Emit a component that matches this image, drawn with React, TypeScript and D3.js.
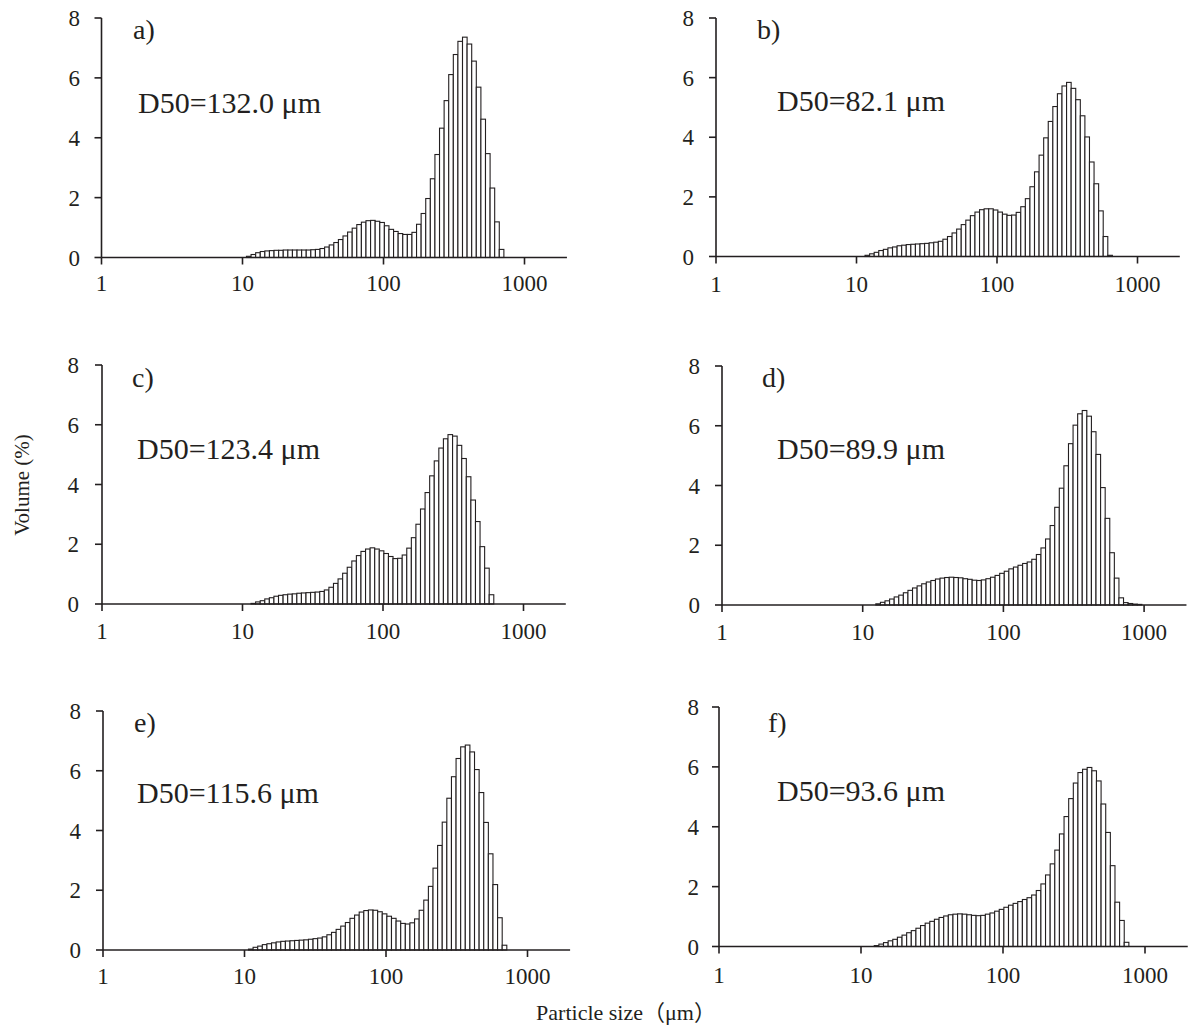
import React, { useEffect, useRef } from 'react';
import * as d3 from 'd3';

// channel grid of the particle sizer (lower edge of first channel, log10 width of a channel)
const CHANNEL_START = 10.67;
const CHANNEL_LOG_STEP = 0.0326;

const PANEL_IDS = ['a)', 'b)', 'c)', 'd)', 'e)', 'f)'];
const D50_LABELS = ['D50=132.0 μm', 'D50=82.1 μm', 'D50=123.4 μm', 'D50=89.9 μm', 'D50=115.6 μm', 'D50=93.6 μm'];
const Y_TICKS = [0, 2, 4, 6, 8];
const X_TICKS = [1, 10, 100, 1000];
const X_MAX = 2000;

// volume (%) per channel, channel 0 first
const VOL_A = [0.04, 0.1, 0.16, 0.2, 0.22, 0.23, 0.24, 0.24, 0.25, 0.25, 0.25, 0.25, 0.25, 0.25, 0.26, 0.27,
  0.3, 0.35, 0.42, 0.5, 0.6, 0.72, 0.85, 0.98, 1.1, 1.18, 1.23, 1.24, 1.21, 1.17, 1.06, 0.94, 0.87, 0.8,
  0.77, 0.77, 0.84, 1.11, 1.47, 1.97, 2.63, 3.44, 4.32, 5.24, 6.11, 6.78, 7.22, 7.36, 7.13, 6.56, 5.69,
  4.62, 3.47, 2.32, 1.19, 0.27];
const VOL_B = [0, 0.04, 0.09, 0.14, 0.2, 0.24, 0.29, 0.32, 0.36, 0.38, 0.4, 0.41, 0.42, 0.43, 0.44, 0.46,
  0.48, 0.51, 0.58, 0.67, 0.79, 0.92, 1.07, 1.22, 1.37, 1.49, 1.57, 1.6, 1.6, 1.56, 1.49, 1.42, 1.38, 1.39,
  1.48, 1.67, 1.94, 2.34, 2.84, 3.4, 3.98, 4.53, 5.03, 5.46, 5.72, 5.84, 5.64, 5.26, 4.72, 4.01, 3.17,
  2.44, 1.53, 0.67, 0.04];
const VOL_C = [0, 0.02, 0.07, 0.11, 0.17, 0.21, 0.26, 0.29, 0.31, 0.33, 0.34, 0.36, 0.37, 0.38, 0.39, 0.4,
  0.42, 0.47, 0.56, 0.69, 0.84, 1.03, 1.23, 1.44, 1.62, 1.76, 1.84, 1.88, 1.84, 1.78, 1.69, 1.59, 1.52,
  1.53, 1.64, 1.87, 2.22, 2.67, 3.18, 3.73, 4.29, 4.79, 5.22, 5.53, 5.67, 5.62, 5.31, 4.87, 4.26, 3.48,
  2.76, 1.92, 1.2, 0.31];
const VOL_D = [0, 0, 0.04, 0.09, 0.14, 0.2, 0.27, 0.33, 0.41, 0.49, 0.57, 0.64, 0.71, 0.77, 0.82, 0.87, 0.9,
  0.92, 0.93, 0.92, 0.91, 0.88, 0.86, 0.83, 0.82, 0.84, 0.88, 0.93, 0.99, 1.06, 1.13, 1.21, 1.27, 1.33,
  1.39, 1.44, 1.53, 1.69, 1.91, 2.21, 2.66, 3.27, 3.91, 4.66, 5.4, 6.02, 6.4, 6.51, 6.32, 5.8, 5.04, 3.93,
  2.9, 1.75, 0.9, 0.24, 0.08, 0.05, 0.03, 0.02];
const VOL_E = [0.03, 0.09, 0.13, 0.18, 0.21, 0.24, 0.27, 0.29, 0.3, 0.31, 0.32, 0.33, 0.34, 0.36, 0.38, 0.4,
  0.44, 0.51, 0.59, 0.69, 0.8, 0.92, 1.06, 1.17, 1.27, 1.32, 1.34, 1.33, 1.28, 1.21, 1.13, 1.06, 0.97,
  0.89, 0.87, 0.91, 1.04, 1.33, 1.67, 2.13, 2.74, 3.5, 4.28, 5.08, 5.8, 6.41, 6.8, 6.86, 6.63, 6.04, 5.27,
  4.27, 3.22, 2.19, 1.08, 0.16];
const VOL_F = [0, 0, 0.03, 0.08, 0.13, 0.19, 0.24, 0.31, 0.38, 0.46, 0.53, 0.61, 0.7, 0.78, 0.84, 0.91,
  0.97, 1.02, 1.06, 1.08, 1.09, 1.08, 1.06, 1.04, 1.03, 1.04, 1.08, 1.12, 1.18, 1.24, 1.31, 1.38, 1.44,
  1.5, 1.57, 1.63, 1.72, 1.87, 2.09, 2.39, 2.76, 3.22, 3.76, 4.34, 4.94, 5.46, 5.81, 5.92, 5.98, 5.87,
  5.53, 4.76, 3.81, 2.7, 1.48, 0.87, 0.14];
const VOLUMES = [VOL_A, VOL_B, VOL_C, VOL_D, VOL_E, VOL_F];

// where each small chart sits on the page (x of 1 µm, px per decade, y of 0 and 8, label spots)
const FRAMES = [
  { x1: 101.5, dec: 141, y0: 257.5, y8: 18, yLab: 80, xLab: 291, idX: 133, idY: 39, dX: 138, dY: 113 },
  { x1: 716, dec: 140.5, y0: 256.5, y8: 18, yLab: 694, xLab: 292, idX: 757, idY: 39, dX: 777, dY: 111 },
  { x1: 102, dec: 140.5, y0: 604, y8: 365, yLab: 79, xLab: 639, idX: 132, idY: 387, dX: 137, dY: 459 },
  { x1: 722, dec: 140.7, y0: 605, y8: 366, yLab: 700, xLab: 640, idX: 762, idY: 387, dX: 777, dY: 459 },
  { x1: 103, dec: 141.5, y0: 950, y8: 711, yLab: 81, xLab: 984, idX: 134, idY: 732, dX: 137, dY: 803 },
  { x1: 719, dec: 142, y0: 946.5, y8: 707, yLab: 699, xLab: 983, idX: 768, idY: 732, dX: 777, dY: 801 },
];

const INK = '#231f20';
const SERIF = '"Liberation Serif", "Times New Roman", "Noto Sans CJK JP", serif';

const channelEdge = (i: number) => CHANNEL_START * Math.pow(10, i * CHANNEL_LOG_STEP);

const App = () => {
  const node = useRef<SVGSVGElement>(null);

  useEffect(() => {
    const svg = d3.select(node.current);
    svg.selectAll('*').remove();

    FRAMES.forEach((f, p) => {
      const g = svg.append('g');
      const x = d3.scaleLog().domain([1, 1000]).range([f.x1, f.x1 + 3 * f.dec]);
      const y = d3.scaleLinear().domain([0, 8]).range([f.y0, f.y8]);

      const bars = VOLUMES[p].map((v, i) => ({ v, i })).filter(d => d.v > 0);

      // histogram bars
      g.selectAll('rect.bar')
        .data(bars)
        .enter()
        .append('rect')
        .attr('x', d => x(channelEdge(d.i)))
        .attr('width', d => x(channelEdge(d.i + 1)) - x(channelEdge(d.i)))
        .attr('y', d => y(d.v))
        .attr('height', d => y(0) - y(d.v))
        .attr('fill', '#fff')
        .attr('stroke', INK)
        .attr('stroke-width', 1.1);

      // x axis
      g.append('line')
        .attr('x1', x(1)).attr('x2', x(X_MAX))
        .attr('y1', y(0)).attr('y2', y(0))
        .attr('stroke', INK).attr('stroke-width', 1.6);

      g.selectAll('line.xt')
        .data(X_TICKS)
        .enter()
        .append('line')
        .attr('x1', d => x(d)).attr('x2', d => x(d))
        .attr('y1', y(0)).attr('y2', y(0) + 7)
        .attr('stroke', INK).attr('stroke-width', 1.6);

      g.selectAll('text.xt')
        .data(X_TICKS)
        .enter()
        .append('text')
        .attr('x', d => x(d))
        .attr('y', f.xLab)
        .attr('text-anchor', 'middle')
        .attr('font-family', SERIF)
        .attr('font-size', 23)
        .attr('fill', INK)
        .text(d => d);

      // y axis
      g.append('line')
        .attr('x1', x(1)).attr('x2', x(1))
        .attr('y1', y(0)).attr('y2', y(8))
        .attr('stroke', INK).attr('stroke-width', 1.6);

      g.selectAll('line.yt')
        .data(Y_TICKS)
        .enter()
        .append('line')
        .attr('x1', x(1) - 7).attr('x2', x(1))
        .attr('y1', d => y(d)).attr('y2', d => y(d))
        .attr('stroke', INK).attr('stroke-width', 1.6);

      g.selectAll('text.yt')
        .data(Y_TICKS)
        .enter()
        .append('text')
        .attr('x', f.yLab)
        .attr('y', d => y(d) + 8)
        .attr('text-anchor', 'end')
        .attr('font-family', SERIF)
        .attr('font-size', 23)
        .attr('fill', INK)
        .text(d => d);

      // panel letter and median size
      g.append('text')
        .attr('x', f.idX).attr('y', f.idY)
        .attr('font-family', SERIF).attr('font-size', 28)
        .attr('fill', INK)
        .text(PANEL_IDS[p]);

      g.append('text')
        .attr('x', f.dX).attr('y', f.dY)
        .attr('font-family', SERIF).attr('font-size', 30)
        .attr('fill', INK)
        .text(D50_LABELS[p]);
    });

    // shared axis titles
    svg.append('text')
      .attr('transform', 'translate(29,485) rotate(-90)')
      .attr('text-anchor', 'middle')
      .attr('font-family', SERIF).attr('font-size', 21)
      .attr('fill', INK)
      .text('Volume (%)');

    svg.append('text')
      .attr('x', 626).attr('y', 1020)
      .attr('text-anchor', 'middle')
      .attr('font-family', SERIF).attr('font-size', 22)
      .attr('fill', INK)
      .text('Particle size（μm）');
  }, []);

  return (
    <svg
      ref={node}
      width={1192}
      height={1028}
      style={{ position: 'absolute', left: 0, top: 0, background: '#fff' }}
    />
  );
};

export default App;
